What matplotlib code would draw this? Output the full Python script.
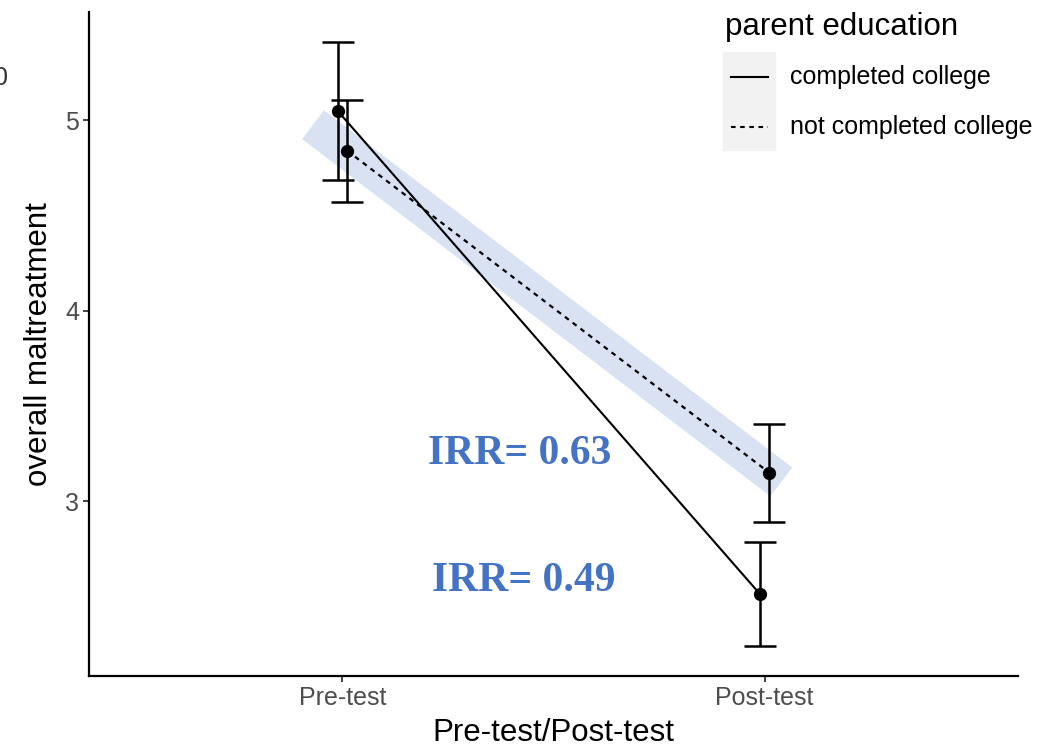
import matplotlib
matplotlib.use("Agg")
import matplotlib.pyplot as plt
from matplotlib.lines import Line2D
from matplotlib.patches import Rectangle

plt.rcParams['font.family'] = ['Liberation Sans', 'DejaVu Sans']

# data
times = ['Pre-test', 'Post-test']
groups = ['completed college', 'not completed college']
means_completed = [5.05, 2.515]
lower_completed = [4.685, 2.24]
upper_completed = [5.41, 2.785]
means_not = [4.84, 3.15]
lower_not = [4.57, 2.89]
upper_not = [5.105, 3.405]
irr_labels = ['IRR= 0.63', 'IRR= 0.49']
irr_pos = [(1.42, 3.25), (1.43, 2.585)]

W, H = 1063, 751
fig = plt.figure(figsize=(W / 100, H / 100), dpi=100)
ax = fig.add_axes([89 / W, 1 - 676 / H, (1018 - 89) / W, (676 - 12) / H])

x = [1, 2]
dodge = 0.0115
x_c = [v - dodge for v in x]
x_n = [v + dodge for v in x]

# light blue highlight band along the dashed line
t0, t1 = -0.081, 1.028
bx = [x_n[0] + t0 * (x_n[1] - x_n[0]), x_n[0] + t1 * (x_n[1] - x_n[0])]
by = [means_not[0] + t0 * (means_not[1] - means_not[0]),
      means_not[0] + t1 * (means_not[1] - means_not[0])]
ax.plot(bx, by, color='#d9e2f3', lw=26, solid_capstyle='butt', zorder=1)

ax.plot(x_c, means_completed, color='black', lw=1.5, zorder=3)
ax.plot(x_n, means_not, color='black', lw=1.6, ls=(0, (2.2, 2.2)), zorder=3)

for xs, m, lo, hi in [(x_c, means_completed, lower_completed, upper_completed),
                      (x_n, means_not, lower_not, upper_not)]:
    err = [[a - b for a, b in zip(m, lo)], [b - a for a, b in zip(m, hi)]]
    ax.errorbar(xs, m, yerr=err, fmt='o', color='black', ms=8.5,
                elinewidth=1.8, capsize=11.5, capthick=1.8, zorder=4)

for lab, (px, py) in zip(irr_labels, irr_pos):
    ax.text(px, py, lab, ha='center', va='center', fontsize=30,
            fontweight='bold', family='Liberation Serif', color='#4472C4')

ax.set_xlim(0.4, 2.6)
ax.set_ylim(2.084, 5.568)
ax.set_xticks(x)
ax.set_xticklabels(times)
ax.set_yticks([3, 4, 5])
ax.tick_params(axis='both', labelsize=18, labelcolor='#4d4d4d', color='#333333',
               length=4, width=1.3, pad=3)
for s in ['top', 'right']:
    ax.spines[s].set_visible(False)
for s in ['left', 'bottom']:
    ax.spines[s].set_linewidth(1.6)
ax.set_xlabel('Pre-test/Post-test', fontsize=22.5, labelpad=6)
ax.set_ylabel('overall maltreatment', fontsize=22.5, labelpad=8)

# legend drawn in pixel positions
def fx(px):
    return px / W

def fy(py):
    return 1 - py / H

fig.text(fx(725), fy(35), 'parent education', fontsize=22.5, va='baseline', ha='left')
fig.patches.append(Rectangle((fx(723), fy(150)), fx(775) - fx(723), fy(52) - fy(150),
                             transform=fig.transFigure, color='#f2f2f2', zorder=0))
styles = ['-', (0, (2.2, 2.2))]
for i, (g, st) in enumerate(zip(groups, styles)):
    yy = 77 + i * 50
    fig.lines.append(Line2D([fx(731), fx(768)], [fy(yy), fy(yy)], color='black',
                            lw=1.5, ls=st, transform=fig.transFigure))
    fig.text(fx(790), fy(yy), g, fontsize=18, va='center', ha='left')

# cropped fragment at left edge (cut off in the reference too)
fig.text(fx(8), fy(78), '0', fontsize=18, ha='right', va='center', color='#333333')

fig.savefig('out.png', dpi=100)
